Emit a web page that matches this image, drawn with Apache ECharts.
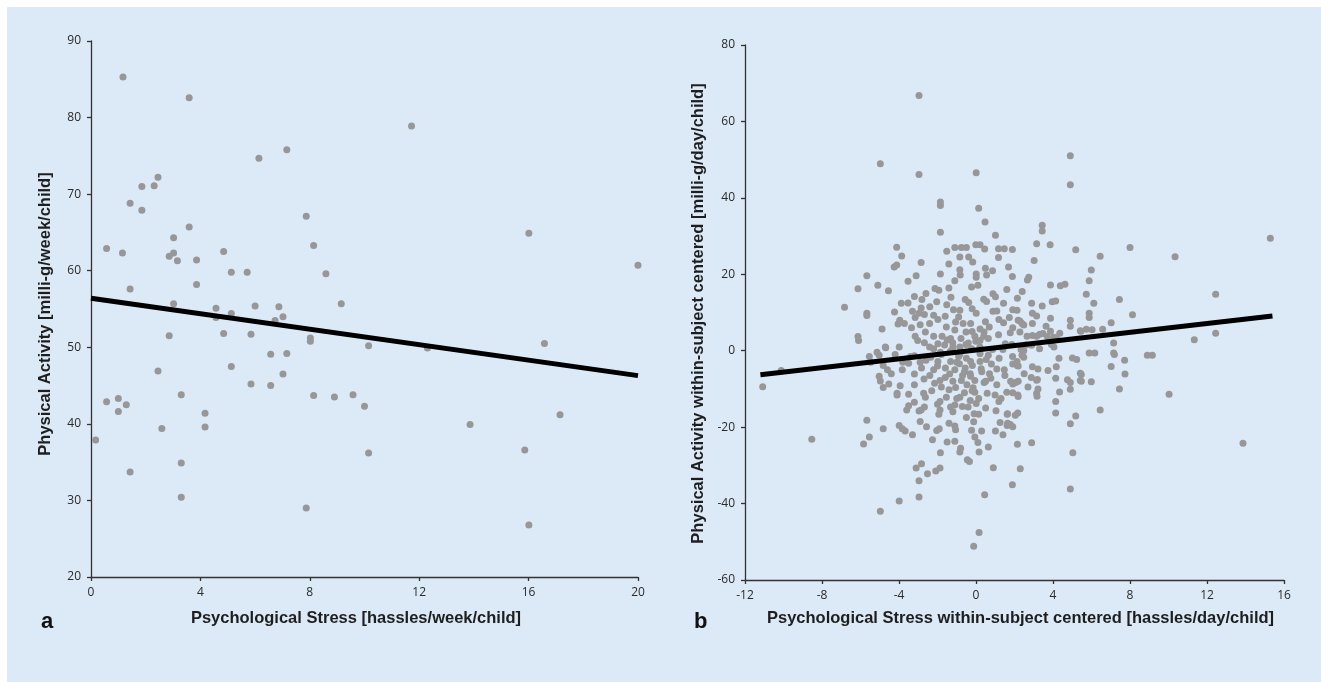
<!DOCTYPE html>
<html><head><meta charset="utf-8">
<script src="https://cdn.jsdelivr.net/npm/echarts@6/dist/echarts.min.js"></script>
<style>
html,body{margin:0;padding:0;background:#fff;width:1321px;height:682px;overflow:hidden;}
#bg{position:absolute;left:7px;top:7px;width:1314px;height:675px;background:#dce9f6;}
#main{position:absolute;left:0;top:0;width:1321px;height:682px;}
</style>
</head><body><div id="bg"></div><div id="main"></div>
<script>
// ---- Panel a: between-subject (weekly) ----
var titleA_X = 'Psychological Stress [hassles/week/child]';
var titleA_Y = 'Physical Activity [milli-g/week/child]';
var xTicksA = {min: 0, max: 20, interval: 4};
var yTicksA = {min: 20, max: 90, interval: 10};
var pointsA = [
 [1.17,85.3],[3.59,82.6],[11.72,78.9],[7.16,75.8],[6.14,74.7],[2.45,72.2],[1.86,71.0],[2.31,71.1],
 [1.43,68.8],[1.86,67.9],[7.87,67.1],[3.59,65.7],[16.01,64.9],[3.02,64.3],[8.14,63.3],[4.85,62.5],
 [0.57,62.9],[1.15,62.3],[3.02,62.3],[2.86,61.9],[3.16,61.3],[3.86,61.4],[20.0,60.7],[5.13,59.8],
 [5.71,59.8],[8.59,59.6],[3.86,58.2],[1.43,57.6],[3.02,55.7],[9.15,55.7],[6.0,55.4],[6.87,55.3],
 [4.57,55.1],[7.02,54.0],[5.13,54.4],[4.57,53.9],[6.73,53.5],[2.86,51.5],[4.85,51.8],[5.85,51.7],
 [8.02,51.2],[8.02,50.8],[16.58,50.5],[10.15,50.2],[12.3,49.9],[6.57,49.1],[7.16,49.2],[5.13,47.5],
 [7.02,46.5],[2.45,46.9],[5.85,45.2],[6.57,45.0],[3.30,43.8],[8.14,43.7],[8.9,43.5],[9.58,43.8],
 [0.57,42.9],[1.0,43.3],[1.29,42.5],[1.0,41.6],[10.0,42.3],[4.17,41.4],[17.15,41.2],[13.86,39.9],
 [4.17,39.6],[2.59,39.4],[0.17,37.9],[10.15,36.2],[15.86,36.6],[3.30,34.9],[1.43,33.7],[3.30,30.4],
 [7.87,29.0],[16.01,26.8]
];
var lineA = [[0,56.4],[20,46.3]];

// ---- Panel b: within-subject centered (daily) ----
var titleB_X = 'Psychological Stress within-subject centered [hassles/day/child]';
var titleB_Y = 'Physical Activity within-subject centered [milli-g/day/child]';
var xTicksB = {min: -12, max: 16, interval: 4};
var yTicksB = {min: -60, max: 80, interval: 20};
var pointsB = [
 [-2.96,66.8],[-4.97,48.9],[-2.96,46.1],[0.01,46.6],[4.9,51.0],[4.9,43.4],[-1.85,38.9],[-1.85,38.0],[0.14,37.3],[0.47,33.7],
 [3.44,32.8],[3.44,31.3],[-1.85,31.0],[1.01,30.2],[15.29,29.4],[8.0,27.0],[-4.12,27.1],[-0.01,27.7],[0.21,27.7],[-1.1,27.0],
 [-0.76,27.0],[-0.5,27.0],[0.45,26.6],[1.17,26.7],[1.47,26.7],[1.89,26.5],[3.15,28.0],[3.85,27.7],[5.18,26.4],[6.45,24.7],
 [10.34,24.6],[-3.86,24.8],[-1.52,26.0],[-0.84,24.5],[-0.38,24.5],[-0.17,23.2],[1.17,24.4],[3.02,23.6],[-2.85,23.1],[-1.41,22.7],
 [-4.25,21.9],[-4.12,22.4],[1.69,21.9],[-0.84,21.2],[0.49,21.6],[0.86,20.9],[5.99,21.1],[-5.67,19.6],[-3.11,19.6],[-1.85,20.1],
 [-0.82,19.8],[0.01,20.1],[0.01,19.2],[0.55,19.8],[1.89,19.4],[2.67,18.5],[2.74,19.2],[5.88,18.3],[-3.53,18.2],[-1.1,18.3],
 [-6.13,16.2],[-5.1,17.1],[-4.55,15.7],[-2.13,16.3],[-1.93,15.8],[-1.41,16.4],[-0.23,16.7],[0.1,17.1],[3.87,17.2],[4.38,17.0],
 [4.62,17.4],[5.73,14.8],[12.45,14.8],[-6.83,11.4],[-3.88,12.4],[-3.53,12.5],[-2.81,13.4],[-2.04,12.8],[-1.52,12.0],[-0.56,13.4],
 [-0.38,12.6],[0.55,12.9],[0.88,14.9],[1.01,14.1],[1.43,12.4],[2.15,13.7],[2.89,12.4],[3.44,11.7],[3.96,12.8],[4.14,13.0],
 [6.12,12.4],[7.45,13.4],[-5.67,9.8],[-5.67,9.2],[-4.23,10.1],[-2.85,11.2],[-2.96,9.8],[-2.2,9.3],[-1.17,10.7],[-0.84,10.6],
 [0.01,9.8],[0.88,10.3],[1.91,10.7],[2.13,10.6],[2.93,9.8],[3.15,9.1],[3.87,8.5],[4.9,8.0],[5.88,9.8],[5.88,8.7],
 [8.13,9.4],[7.02,7.3],[-3.96,8.0],[-3.72,7.1],[-3.16,8.7],[-2.68,9.5],[-1.98,8.2],[-0.28,7.1],[0.49,7.6],[1.43,7.3],
 [2.28,7.8],[3.87,5.1],[4.9,6.4],[5.42,5.2],[5.73,5.6],[6.58,5.6],[-6.13,3.7],[-6.1,2.7],[-4.88,5.7],[-4.05,7.0],
 [-3.35,6.0],[-4.71,1.0],[-3.99,1.0],[-3.16,3.8],[-3.03,2.7],[3.7,3.7],[4.09,2.9],[4.35,4.6],[5.45,5.1],[3.92,1.6],
 [4.05,1.0],[11.34,2.9],[12.45,4.6],[7.15,2.0],[5.88,-0.6],[6.17,-0.6],[7.15,-0.6],[8.9,-1.2],[9.16,-1.2],[7.72,-2.5],
 [4.31,-2.0],[5.01,-1.9],[5.23,-2.3],[7.02,-4.1],[7.74,-6.1],[5.42,-5.9],[5.42,-7.8],[5.99,-8.1],[4.75,-7.6],[4.9,-8.3],
 [4.14,-7.2],[4.9,-10.1],[7.45,-10.0],[3.74,-5.2],[2.87,-7.0],[3.15,-7.7],[3.15,-11.1],[3.17,-11.9],[4.14,-13.3],[4.14,-16.3],
 [6.45,-15.5],[5.18,-17.1],[4.9,-19.1],[10.03,-11.4],[5.03,-26.7],[13.87,-24.2],[4.9,-36.2],[2.89,-24.1],[2.15,-24.5],[2.3,-30.9],
 [0.9,-30.6],[1.89,-35.1],[0.45,-37.7],[0.16,-47.6],[-0.12,-51.2],[-3.99,-39.3],[-4.97,-42.0],[-2.96,-38.3],[-2.96,-34.0],[-2.83,-29.6],
 [-3.11,-30.7],[-2.52,-32.2],[-2.09,-31.5],[-1.87,-30.7],[-0.45,-28.5],[-0.34,-29.0],[-0.84,-26.5],[-1.85,-26.7],[0.64,-25.2],[0.16,-26.5],
 [-2.26,-23.3],[-1.5,-23.9],[-1.1,-23.7],[-2.57,-19.9],[-2.04,-20.9],[-1.91,-20.4],[-1.06,-20.7],[-0.23,-20.8],[0.29,-21.0],[1.01,-21.0],
 [-0.06,-22.6],[1.25,-18.8],[1.62,-19.6],[1.78,-19.3],[1.91,-19.9],[2.04,-16.9],[2.17,-16.3],[1.04,-15.7],[1.62,-16.6],[1.19,-13.3],
 [0.14,-16.6],[-0.12,-18.6],[-1.1,-19.7],[-1.93,-16.6],[-1.87,-15.5],[-2.96,-15.8],[-2.85,-15.5],[-2.68,-14.7],[-3.5,-14.4],[-4.1,-11.6],
 [-4.1,-11.1],[-3.5,-11.4],[-3.94,-9.2],[-4.82,-9.6],[-4.53,-8.7],[-4.97,-7.9],[-5.03,-6.7],[-4.6,-5.0],[-3.83,-5.0],[-4.82,-3.9],
 [-5.47,-3.0],[-5.54,-1.5],[-5.14,-0.4],[-5.03,-1.2],[-4.69,0.8],[-3.2,-1.3],[-3.5,-3.3],[-3.2,-6.1],[-2.83,-4.5],[-2.7,-7.4],
 [-3.2,-8.9],[-2.72,-11.1],[-2.63,-12.2],[-2.15,-8.5],[-1.87,-7.8],[-1.87,-13.3],[-1.54,-12.2],[-1.06,-9.6],[-0.84,-12.2],[-0.71,-14.6],
 [-1.1,-14.2],[-1.32,-14.7],[-0.41,-14.7],[0.01,-13.8],[0.14,-12.5],[0.58,-11.1],[0.99,-11.6],[1.6,-10.9],[2.17,-11.6],[2.06,-8.3],
 [1.08,-8.9],[0.77,-7.2],[1.08,-4.8],[1.47,-5.0],[2.15,-3.9],[2.13,-2.8],[2.39,-1.2],[0.42,-8.3],[0.27,-4.7],[0.53,-2.3],
 [-0.28,-6.7],[-0.06,-7.8],[-0.15,-9.7],[-0.06,-10.9],[-0.47,-8.9],[-0.76,-7.8],[-1.37,-6.1],[-1.1,-5.0],[-1.32,-2.8],[-0.86,-3.4],
 [-0.56,-4.5],[-0.28,-2.8],[-0.19,-3.9],[0.21,-2.8],[-1.59,-4.5],[-1.98,-2.8],[-2.2,-5.0],[-2.35,-1.7],[-1.85,-0.4],[-1.32,-0.1],
 [-0.84,-0.9],[-0.23,0.5],[0.21,-0.8],[0.64,-1.2],[0.86,0.3],[1.52,1.8],[1.86,1.6],[2.34,0.3],[2.89,1.4],[3.15,3.8],
 [2.65,3.8],[2.93,7.1],[2.28,4.9],[1.78,4.7],[1.91,6.0],[1.17,4.2],[0.64,3.2],[0.42,4.9],[-0.06,3.8],[-0.01,2.5],
 [0.21,2.7],[-0.52,4.9],[-0.78,3.2],[-1.1,5.4],[-1.32,3.2],[-1.21,2.1],[-1.76,3.8],[-2.2,3.8],[-1.98,1.8],[-2.41,1.0],
 [-2.68,2.1],[-2.63,4.9],[-2.41,7.1],[-1.54,6.2],[-1.06,7.5],[-0.67,7.1],[0.21,5.7],[0.69,6.2],[1.19,8.2],[1.08,10.4],
 [1.73,8.7],[2.39,7.1],[-1.63,1.5],[-0.84,1.0],[-0.52,1.6],
 [3.64,6.4],[3.31,4.3],[4.03,3.5],[4.17,3.4],[2.93,4.0],[3.48,4.5],[2.48,6.7],[2.19,8.0],[2.48,0.0],[2.48,-1.7],
 [3.22,-4.8],[2.19,-4.0],[1.91,-3.5],[2.19,-8.0],[1.91,-8.7],[2.19,-12.0],[1.91,-11.0],[1.64,-16.5],[1.64,-19.0],[4.34,-10.8],
 [5.47,-6.2],[5.47,-8.0],[4.17,-4.2],[3.19,-7.5],[3.22,-10.0],[2.93,-4.2],[6.03,5.5],[7.19,-1.0],
 [-11.08,-9.4],[-10.12,-5.2],[-8.53,-23.2],[-5.84,-24.4],[-5.67,-18.2],[-5.54,-22.6],[-4.82,-20.4],[-3.99,-19.6],[-3.83,-20.4],[-3.68,-21.0],
 [-1.0,-3.0],[-0.6,-5.5],[-0.3,-6.0],[-1.2,-8.0],[-0.9,-1.5],[-0.5,-2.0],[0.3,-5.5],[0.5,-8.0],[-0.2,-10.5],[-0.6,-11.0],
 [-1.4,-10.2],[-1.6,-7.0],[-2.0,-4.0],[-2.4,-6.5],[-2.6,-2.5],[-1.8,-1.0],[-1.2,1.0],[-0.4,2.0],[0.2,1.0],[0.8,-3.5],
 [1.2,-2.0],[1.5,-6.5],[1.8,-8.0],[0.7,-6.0],[-0.7,-6.5],[-1.0,-12.5],[-0.3,-13.0],[-1.8,-9.5],[-2.3,-10.5],[-0.1,-16.5],
 [-1.2,-16.0],[-0.5,-17.5],[-2.0,-14.0],[0.5,-15.0],[-3.2,-13.5],[-3.6,-15.5],[-2.9,-3.0],[-3.4,-1.5],[-3.8,-3.0],[-4.2,-1.0],
 [-4.4,-6.0],[-2.2,0.5],[-1.5,2.8],[-0.2,5.0],[0.4,3.8],[1.4,0.3],[1.9,-1.5],[2.5,-6.0],[2.7,-9.5],[1.3,-12.5],
 [2.6,1.5],[3.3,0.5],[-2.9,6.8],[-3.3,10.3],[-2.4,11.5],[-1.6,9.0],[-0.9,8.8],[-0.2,11.0],[0.4,13.5],[-1.3,14.0],
 [-2.6,15.0],[-3.2,14.2],[1.6,16.0],[2.4,15.5],[0.1,-24.0],[-0.8,-25.5],[-2.9,-18.5],[-3.3,-22.0],[-1.4,-19.0],[1.4,-22.0]
];
var lineB = [[-11.2,-6.3],[15.4,9.1]];
var panelLabels = ['a', 'b'];

var tickFont = {color:'#2a2a2a', fontSize:12, fontFamily:'Open Sans'};
var nameFont = {color:'#1e1e1e', fontSize:16.5, fontWeight:'bold', fontFamily:'Liberation Sans'};
var axisLineStyle = {color:'#333', width:1.3};

function xAxisCfg(idx, ticks, name, pad, gap) {
  return {
    gridIndex: idx, type:'value', min: ticks.min, max: ticks.max, interval: ticks.interval,
    axisLine:{show:true, onZero:false, lineStyle:axisLineStyle},
    axisTick:{show:true, length:4, lineStyle:axisLineStyle},
    splitLine:{show:false},
    axisLabel:Object.assign({margin:10}, tickFont),
    name: name, nameLocation:'middle', nameGap:gap,
    nameTextStyle:Object.assign({padding:pad}, nameFont)
  };
}
function yAxisCfg(idx, ticks, name, gap, pad) {
  return {
    gridIndex: idx, type:'value', min: ticks.min, max: ticks.max, interval: ticks.interval,
    axisLine:{show:true, onZero:false, lineStyle:axisLineStyle},
    axisTick:{show:true, length:4, lineStyle:axisLineStyle},
    splitLine:{show:false},
    axisLabel:Object.assign({margin:10}, tickFont),
    name: name, nameLocation:'middle', nameGap:gap,
    nameTextStyle:Object.assign({padding:pad}, nameFont)
  };
}

var chart = echarts.init(document.getElementById('main'), null, {renderer:'canvas'});
chart.setOption({
  animation:false,
  backgroundColor:'transparent',
  grid:[
    {left:91, top:41, width:547, height:536, outerBoundsMode:'none'},
    {left:745, top:45, width:539, height:535, outerBoundsMode:'none'}
  ],
  xAxis:[
    xAxisCfg(0, xTicksA, titleA_X, [0,17,0,0], 33),
    xAxisCfg(1, xTicksB, titleB_X, [0,0,0,12], 30)
  ],
  yAxis:[
    yAxisCfg(0, yTicksA, titleA_Y, 37, [0,10,0,0]),
    yAxisCfg(1, yTicksB, titleB_Y, 38, [0,2,0,0])
  ],
  graphic:[
    {type:'text', left:41, top:611, style:{text:panelLabels[0], font:'bold 22px "Liberation Sans"', fill:'#111'}},
    {type:'text', left:694, top:611, style:{text:panelLabels[1], font:'bold 22px "Liberation Sans"', fill:'#111'}}
  ],
  series:[
    {type:'scatter', xAxisIndex:0, yAxisIndex:0, data:pointsA, symbol:'circle', symbolSize:7,
     itemStyle:{color:'#979797', opacity:1}, z:2},
    {type:'line', xAxisIndex:0, yAxisIndex:0, data:lineA, symbol:'none',
     lineStyle:{color:'#000', width:5}, z:3},
    {type:'scatter', xAxisIndex:1, yAxisIndex:1, data:pointsB, symbol:'circle', symbolSize:7,
     itemStyle:{color:'#979797', opacity:1}, z:2},
    {type:'line', xAxisIndex:1, yAxisIndex:1, data:lineB, symbol:'none',
     lineStyle:{color:'#000', width:5}, z:3}
  ]
});
</script></body></html>
